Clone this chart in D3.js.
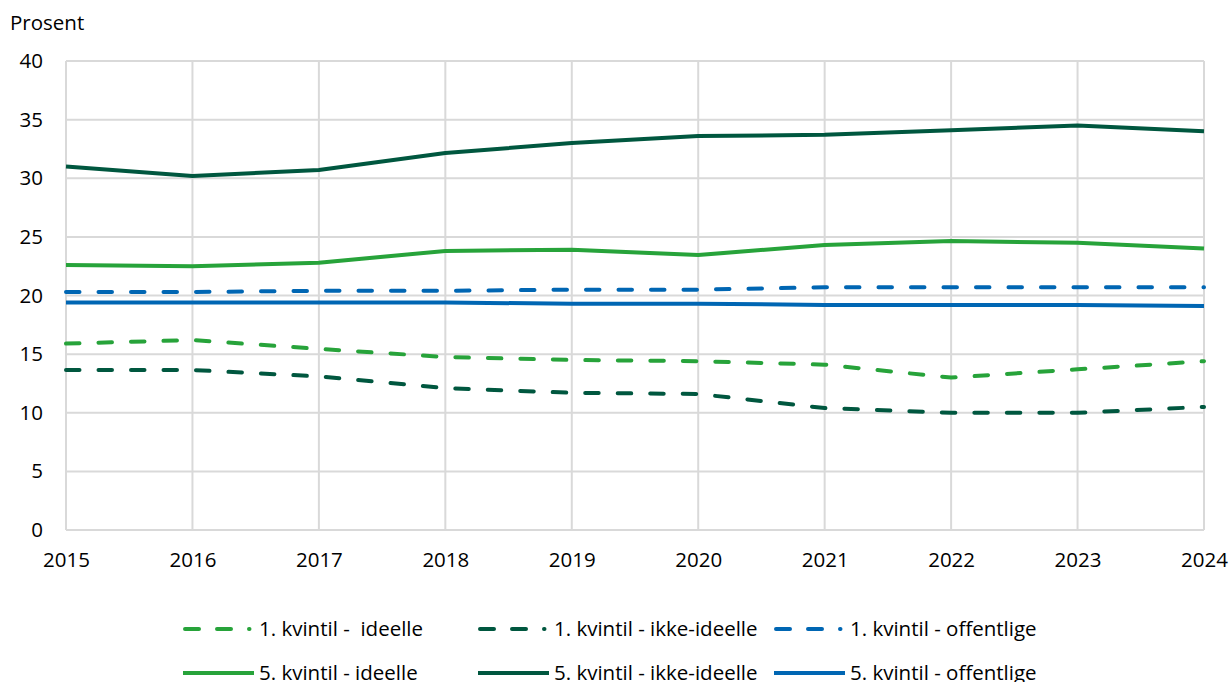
<!DOCTYPE html>
<html>
<head>
<meta charset="utf-8">
<script src="https://cdn.jsdelivr.net/npm/d3@7"></script>
<style>
  body { margin: 0; background: #fff; }
  text { font-family: "Open Sans", "Noto Sans", sans-serif; fill: #000; }
</style>
</head>
<body>
<div id="chart"></div>
<script>
var years = [2015, 2016, 2017, 2018, 2019, 2020, 2021, 2022, 2023, 2024];
var yTicks = [0, 5, 10, 15, 20, 25, 30, 35, 40];

var q1Ideelle     = [15.9, 16.2, 15.45, 14.75, 14.5, 14.4, 14.1, 13.0, 13.7, 14.4];
var q1IkkeIdeelle = [13.65, 13.65, 13.1, 12.1, 11.7, 11.6, 10.4, 10.0, 10.0, 10.5];
var q1Offentlige  = [20.3, 20.3, 20.4, 20.4, 20.5, 20.5, 20.7, 20.7, 20.7, 20.7];
var q5Ideelle     = [22.6, 22.5, 22.8, 23.8, 23.9, 23.45, 24.3, 24.65, 24.5, 24.0];
var q5IkkeIdeelle = [31.0, 30.2, 30.7, 32.15, 33.0, 33.6, 33.7, 34.1, 34.5, 34.0];
var q5Offentlige  = [19.4, 19.4, 19.4, 19.4, 19.3, 19.3, 19.2, 19.2, 19.2, 19.1];

var seriesNames = ["1. kvintil -  ideelle", "1. kvintil - ikke-ideelle", "1. kvintil - offentlige",
                   "5. kvintil - ideelle", "5. kvintil - ikke-ideelle", "5. kvintil - offentlige"];

var green = "#27a33a", darkGreen = "#00573f", blue = "#0066b3";

var series = [
  {name: seriesNames[0], values: q1Ideelle, color: green, dashed: true},
  {name: seriesNames[1], values: q1IkkeIdeelle, color: darkGreen, dashed: true},
  {name: seriesNames[2], values: q1Offentlige, color: blue, dashed: true},
  {name: seriesNames[3], values: q5Ideelle, color: green, dashed: false},
  {name: seriesNames[4], values: q5IkkeIdeelle, color: darkGreen, dashed: false},
  {name: seriesNames[5], values: q5Offentlige, color: blue, dashed: false}
];

var W = 1229, H = 682;
var margin = {top: 61, right: 25, bottom: 152, left: 66},
    width = W - margin.left - margin.right,
    height = H - margin.top - margin.bottom;

var fontSize = "20.5px";

var svg = d3.select("#chart").append("svg")
    .attr("width", W)
    .attr("height", H);

var g = svg.append("g")
    .attr("transform", "translate(" + margin.left + "," + margin.top + ")");

var x = d3.scaleLinear()
    .domain([years[0], years[years.length - 1]])
    .range([0, width]);

var y = d3.scaleLinear()
    .domain([0, 40])
    .range([height, 0]);

// grid
g.append("g")
  .selectAll("line.h")
  .data(yTicks)
  .enter().append("line")
    .attr("x1", 0).attr("x2", width)
    .attr("y1", function(d) { return y(d); })
    .attr("y2", function(d) { return y(d); })
    .attr("stroke", "#d9d9d9")
    .attr("stroke-width", 2);

g.append("g")
  .selectAll("line.v")
  .data(years)
  .enter().append("line")
    .attr("x1", function(d) { return x(d); })
    .attr("x2", function(d) { return x(d); })
    .attr("y1", 0).attr("y2", height)
    .attr("stroke", "#d9d9d9")
    .attr("stroke-width", 2);

// axes
var yAxis = d3.axisLeft(y).tickValues(yTicks).tickSize(0).tickPadding(23);
var gy = g.append("g").call(yAxis);
gy.select(".domain").remove();
gy.selectAll("text").style("font-size", fontSize);

var xAxis = d3.axisBottom(x).tickValues(years).tickFormat(d3.format("d")).tickSize(0).tickPadding(22);
var gx = g.append("g")
    .attr("transform", "translate(0," + height + ")")
    .call(xAxis);
gx.select(".domain").remove();
gx.selectAll("text").style("font-size", fontSize);

svg.append("text")
    .attr("x", 10)
    .attr("y", 30)
    .style("font-size", fontSize)
    .text("Prosent");

// lines
var line = d3.line()
    .x(function(d, i) { return x(years[i]); })
    .y(function(d) { return y(d); });

g.selectAll("path.series")
  .data(series)
  .enter().append("path")
    .attr("class", "series")
    .attr("d", function(d) { return line(d.values); })
    .attr("fill", "none")
    .attr("stroke", function(d) { return d.color; })
    .attr("stroke-width", 4)
    .attr("stroke-linecap", function(d) { return d.dashed ? "round" : "butt"; })
    .attr("stroke-linejoin", "round")
    .attr("stroke-dasharray", function(d) { return d.dashed ? "13.5,19" : null; });

// legend
var colX = [183, 478, 774];
var rowY = [629, 673];
var legend = svg.append("g");
series.forEach(function(s, i) {
  var cx = colX[i % 3], cy = rowY[Math.floor(i / 3)];
  var item = legend.append("g");
  if (s.dashed) {
    item.append("line")
      .attr("x1", cx + 2).attr("x2", cx + 66.5)
      .attr("y1", cy).attr("y2", cy)
      .attr("stroke", s.color)
      .attr("stroke-width", 4)
      .attr("stroke-linecap", "round")
      .attr("stroke-dasharray", "14,18,14,18,0.5,20");
  } else {
    item.append("line")
      .attr("x1", cx).attr("x2", cx + 71)
      .attr("y1", cy).attr("y2", cy)
      .attr("stroke", s.color)
      .attr("stroke-width", 4);
  }
  item.append("text")
    .attr("x", cx + 76)
    .attr("y", cy)
    .attr("dy", "0.35em")
    .style("font-size", fontSize)
    .style("white-space", "pre")
    .text(s.name);
});
</script>
</body>
</html>
